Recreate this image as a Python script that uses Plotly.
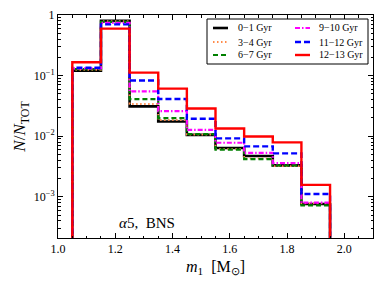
import plotly.graph_objects as go

bin_centers = [1.1, 1.2, 1.3, 1.4, 1.5, 1.6, 1.7, 1.8, 1.9]
bin_width = 0.1

labels = ["0−1 Gyr", "3−4 Gyr", "6−7 Gyr", "9−10 Gyr", "11−12 Gyr", "12−13 Gyr"]
v_0_1 = [0.121, 0.80, 0.031, 0.0175, 0.0105, 0.0064, 0.0047, 0.0033, 0.00076]
v_3_4 = [0.125, 0.79, 0.034, 0.0185, 0.0106, 0.0062, 0.0043, 0.0032, 0.00078]
v_6_7 = [0.128, 0.77, 0.041, 0.0199, 0.0108, 0.0060, 0.0042, 0.0033, 0.00072]
v_9_10 = [0.132, 0.74, 0.055, 0.026, 0.0127, 0.0078, 0.0053, 0.0036, 0.00080]
v_11_12 = [0.135, 0.70, 0.083, 0.041, 0.0194, 0.0092, 0.0068, 0.0052, 0.00111]
v_12_13 = [0.166, 0.595, 0.112, 0.061, 0.0287, 0.0134, 0.0099, 0.0079, 0.00157]
series = [v_0_1, v_3_4, v_6_7, v_9_10, v_11_12, v_12_13]

colors = ["black", "#ff8c4a", "#008000", "#ff00ff", "#0000ff", "#ff0000"]
dashes = ["solid", "1.5px,2.5px", "5px,3px", "5px,2px,1.5px,2px", "6px,3px", "solid"]
widths = [2.6, 1.8, 2.2, 2.2, 2.4, 2.4]

FLOOR = 1e-6
edges = [c - bin_width / 2 for c in bin_centers] + [bin_centers[-1] + bin_width / 2]

# page has an 8px body margin; the figure is sized to fit inside it
OFF = 8
W, H = 366, 272
ML, MR, MT, MB = 50, 1, 7, 42
PW, PH = W - ML - MR, H - MT - MB


def px2paper(px, py):
    return (px - OFF - ML) / PW, 1 - (py - OFF - MT) / PH


fig = go.Figure()
for lab, vals, col, dsh, w in zip(labels, series, colors, dashes, widths):
    xs = [edges[0]] + edges + [edges[-1]]
    ys = [FLOOR] + vals + [vals[-1], FLOOR]
    fig.add_trace(go.Scatter(
        x=xs, y=ys, mode="lines", line_shape="hv", name=lab, showlegend=False,
        line=dict(color=col, width=w, dash=dsh),
    ))

font_family = "Liberation Serif"

# manual two-column legend (column-major order)
shapes = []
annotations = []
x0, y0 = px2paper(207, 19)
x1, y1 = px2paper(368, 64)
shapes.append(dict(type="rect", xref="paper", yref="paper", x0=x0, y0=y0, x1=x1, y1=y1,
                   line=dict(color="black", width=1), fillcolor="white", layer="above"))
row_py = [28, 42, 55]
col_line_px = [(213, 228), (295, 310)]
col_text_px = [236, 317]
for i, (lab, col, dsh, w) in enumerate(zip(labels, colors, dashes, widths)):
    c, r = divmod(i, 3)
    lx0, ly = px2paper(col_line_px[c][0], row_py[r])
    lx1, _ = px2paper(col_line_px[c][1], row_py[r])
    shapes.append(dict(type="line", xref="paper", yref="paper", x0=lx0, x1=lx1, y0=ly, y1=ly,
                       line=dict(color=col, width=w, dash=dsh), layer="above"))
    tx, _ = px2paper(col_text_px[c], row_py[r])
    annotations.append(dict(x=tx, y=ly, xref="paper", yref="paper", text=lab, showarrow=False,
                            xanchor="left", yanchor="middle", font=dict(size=10, family=font_family)))

annotations.append(dict(
    x=1.205, y=-3.44, xref="x", yref="y", text="<i>α</i>5,  BNS",
    showarrow=False, xanchor="left", yanchor="middle",
    font=dict(size=15, family=font_family),
))

fig.update_layout(
    width=W, height=H,
    margin=dict(l=ML, r=MR, t=MT, b=MB),
    plot_bgcolor="white", paper_bgcolor="white",
    font=dict(family=font_family, size=12, color="black"),
    showlegend=False,
    shapes=shapes,
    annotations=annotations,
)
fig.update_xaxes(
    range=[1.0, 2.1], tickvals=[1.0, 1.2, 1.4, 1.6, 1.8, 2.0],
    ticktext=["1.0", "1.2", "1.4", "1.6", "1.8", "2.0"],
    ticks="inside", ticklen=5, tickcolor="black", mirror="allticks", automargin=False,
    showline=True, linecolor="black", linewidth=1, showgrid=False, zeroline=False,
    minor=dict(dtick=0.05, tick0=1.0, ticks="inside", ticklen=2.5, tickcolor="black", showgrid=False),
    title=dict(text="<i>m</i><sub>1</sub>  [M<sub>⊙</sub>]", font=dict(size=16), standoff=5),
    tickfont=dict(size=12),
)
fig.update_yaxes(
    type="log", range=[-3.68, 0],
    tickvals=[1e-3, 1e-2, 1e-1, 1],
    ticktext=["10<sup>−3</sup>", "10<sup>−2</sup>", "10<sup>−1</sup>", "1"],
    ticks="inside", ticklen=5, tickcolor="black", mirror="allticks", automargin=False,
    showline=True, linecolor="black", linewidth=1, showgrid=False, zeroline=False,
    minor=dict(dtick="D1", ticks="inside", ticklen=2.5, tickcolor="black", showgrid=False),
    title=dict(text="<i>N</i>/<i>N</i><sub>TOT</sub>", font=dict(size=17), standoff=3),
    tickfont=dict(size=12),
)
fig.write_html("out.html")
